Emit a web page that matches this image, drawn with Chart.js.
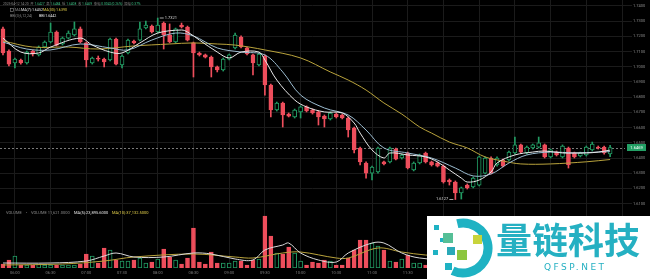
<!DOCTYPE html>
<html>
<head>
<meta charset="utf-8">
<script src="https://cdn.jsdelivr.net/npm/chart.js@4.4.1/dist/chart.umd.min.js"></script>
<style>
  html, body { margin: 0; padding: 0; background: #000; }
  #wrap { width: 650px; height: 279px; }
</style>
</head>
<body>
<div id="wrap"><canvas id="kline" width="650" height="279"></canvas></div>
<script>
// 5 minute candles, 05:50 .. 14:20 (plus empty slots to 14:30)
const times = [
  '05:50','05:55',
  '06:00','06:05','06:10','06:15','06:20','06:25','06:30','06:35','06:40','06:45','06:50','06:55',
  '07:00','07:05','07:10','07:15','07:20','07:25','07:30','07:35','07:40','07:45','07:50','07:55',
  '08:00','08:05','08:10','08:15','08:20','08:25','08:30','08:35','08:40','08:45','08:50','08:55',
  '09:00','09:05','09:10','09:15','09:20','09:25','09:30','09:35','09:40','09:45','09:50','09:55',
  '10:00','10:05','10:10','10:15','10:20','10:25','10:30','10:35','10:40','10:45','10:50','10:55',
  '11:00','11:05','11:10','11:15','11:20','11:25','11:30','11:35','11:40','11:45','11:50','11:55',
  '12:00','12:05','12:10','12:15','12:20','12:25','12:30','12:35','12:40','12:45','12:50','12:55',
  '13:00','13:05','13:10','13:15','13:20','13:25','13:30','13:35','13:40','13:45','13:50','13:55',
  '14:00','14:05','14:10','14:15','14:20','14:25','14:30'
];
const tickLabels = ['06:00','06:30','07:00','07:30','08:00','08:30','09:00','09:30','10:00','10:30',
  '11:00','11:30','12:00','12:30','13:00','13:30','14:00','14:30'];
const priceTicks = [1.74,1.73,1.72,1.71,1.70,1.69,1.68,1.67,1.66,1.65,1.64,1.63,1.62,1.61];

const open = [
  1.7249,1.7104,1.7025,1.7045,1.7025,1.7104,1.7078,1.7130,1.7163,1.7229,
  1.7150,1.7189,1.7209,1.7249,1.7157,1.7025,1.7058,1.7051,1.7045,1.7183,
  1.7012,1.7091,1.7170,1.7176,1.7255,1.7268,1.7229,1.7288,1.7209,1.7163,
  1.7275,1.7262,1.7157,1.7091,1.7078,1.7064,1.6999,1.6979,1.7051,1.7124,
  1.7196,1.7124,1.7078,1.7012,1.7071,1.6880,1.6716,1.6762,1.6689,1.6670,
  1.6703,1.6736,1.6716,1.6703,1.6676,1.6657,1.6689,1.6683,1.6663,1.6597,
  1.6466,1.6367,1.6301,1.6308,1.6374,1.6374,1.6459,1.6400,1.6433,1.6321,
  1.6367,1.6433,1.6374,1.6367,1.6347,1.6255,1.6242,1.6170,1.6222,1.6209,
  1.6222,1.6301,1.6400,1.6354,1.6387,1.6387,1.6433,1.6486,1.6433,1.6466,
  1.6472,1.6486,1.6407,1.6439,1.6407,1.6466,1.6433,1.6413,1.6420,1.6453,
  1.6472,1.6472,1.6427
];
const high = [
  1.7262,1.7111,1.7058,1.7051,1.7104,1.7111,1.7137,1.7170,1.7288,1.7236,
  1.7196,1.7236,1.7295,1.7262,1.7163,1.7064,1.7071,1.7058,1.7189,1.7189,
  1.7078,1.7183,1.7176,1.7295,1.7301,1.7275,1.7321,1.7295,1.7282,1.7255,
  1.7288,1.7268,1.7163,1.7097,1.7084,1.7071,1.7005,1.7058,1.7084,1.7222,
  1.7203,1.7130,1.7084,1.7091,1.7078,1.6886,1.6768,1.6768,1.6696,1.6722,
  1.6743,1.6743,1.6722,1.6709,1.6683,1.6703,1.6696,1.6689,1.6670,1.6604,
  1.6472,1.6374,1.6347,1.6472,1.6380,1.6472,1.6466,1.6426,1.6439,1.6374,
  1.6426,1.6439,1.6380,1.6374,1.6354,1.6262,1.6249,1.6209,1.6229,1.6275,
  1.6413,1.6407,1.6407,1.6407,1.6393,1.6446,1.6538,1.6492,1.6479,1.6492,
  1.6538,1.6492,1.6459,1.6446,1.6486,1.6472,1.6439,1.6439,1.6479,1.6505,
  1.6479,1.6479,1.6484
];
const low = [
  1.7078,1.7005,1.6992,1.7018,1.7018,1.7071,1.7071,1.7124,1.7157,1.7137,
  1.7143,1.7183,1.7203,1.7157,1.6999,1.7018,1.7038,1.6999,1.7038,1.7012,
  1.6992,1.7084,1.7150,1.7170,1.7249,1.7222,1.7222,1.7117,1.7157,1.7157,
  1.7255,1.7170,1.6933,1.7071,1.7058,1.6933,1.6966,1.6972,1.7045,1.7117,
  1.7124,1.7078,1.6946,1.7005,1.6814,1.6670,1.6709,1.6604,1.6670,1.6663,
  1.6663,1.6703,1.6689,1.6617,1.6604,1.6650,1.6663,1.6657,1.6538,1.6433,
  1.6354,1.6268,1.6255,1.6301,1.6354,1.6367,1.6387,1.6393,1.6328,1.6315,
  1.6361,1.6367,1.6347,1.6341,1.6235,1.6222,1.6127,1.6130,1.6196,1.6203,
  1.6216,1.6295,1.6295,1.6347,1.6341,1.6380,1.6426,1.6433,1.6426,1.6459,
  1.6466,1.6400,1.6400,1.6413,1.6400,1.6334,1.6400,1.6407,1.6413,1.6446,
  1.6459,1.6426,1.6408
];
const close = [
  1.7091,1.7018,1.7051,1.7025,1.7097,1.7084,1.7130,1.7163,1.7229,1.7143,
  1.7189,1.7222,1.7249,1.7163,1.7045,1.7058,1.7051,1.7032,1.7183,1.7018,
  1.7071,1.7176,1.7157,1.7249,1.7275,1.7229,1.7275,1.7209,1.7163,1.7249,
  1.7262,1.7176,1.7091,1.7078,1.7064,1.6999,1.6979,1.7051,1.7078,1.7209,
  1.7130,1.7084,1.7025,1.7084,1.6880,1.6716,1.6762,1.6683,1.6676,1.6716,
  1.6736,1.6709,1.6696,1.6670,1.6657,1.6696,1.6670,1.6663,1.6584,1.6453,
  1.6374,1.6301,1.6341,1.6466,1.6361,1.6466,1.6393,1.6420,1.6334,1.6367,
  1.6420,1.6374,1.6354,1.6347,1.6242,1.6242,1.6170,1.6203,1.6203,1.6268,
  1.6407,1.6400,1.6301,1.6400,1.6347,1.6439,1.6486,1.6439,1.6472,1.6486,
  1.6499,1.6407,1.6453,1.6420,1.6479,1.6354,1.6407,1.6433,1.6472,1.6492,
  1.6466,1.6433,1.6469
];
const volume = [
  20000,40000,60000,15000,15000,15000,20000,15000,15000,15000,
  15000,15000,15000,20000,70000,60000,25000,100000,90000,40000,
  35000,35000,40000,50000,25000,30000,45000,95000,55000,40000,
  20000,50000,200000,30000,20000,80000,25000,25000,25000,35000,
  35000,15000,40000,45000,260000,160000,75000,70000,105000,75000,
  35000,15000,30000,25000,40000,35000,15000,15000,50000,90000,
  140000,140000,125000,110000,90000,35000,30000,45000,65000,25000,
  25000,15000,15000,12000,45000,20000,60000,25000,15000,30000,
  90000,55000,40000,20000,18000,35000,50000,25000,20000,15000,
  30000,45000,22000,38000,64000,82000,40000,27847,30000,35000,
  18000,24857,11621
];

// indicator lines (candle index, value)
const ma7Idx = [0,3,6,8,13,15,18,20,23,26,30,31,33,36,38,40,43,44,46,49,51,54,57,59,60,62,64,65,68,71,73,75,77,78,80,82,83,86,89,91,94,96,98,100,102];
const ma7 = [1.7189,1.7097,1.7091,1.7130,1.7189,1.7143,1.7097,1.7091,1.7157,1.7222,1.7242,1.7229,1.7176,1.7097,1.7058,1.7097,1.7097,1.7045,1.6913,1.6782,1.6736,1.6703,1.6696,1.6630,1.6564,1.6453,1.6400,1.6433,1.6420,1.6407,1.6374,1.6321,1.6268,1.6242,1.6255,1.6308,1.6367,1.6420,1.6439,1.6446,1.6433,1.6433,1.6433,1.6439,1.6452];
const bbiIdx = [0,4,8,13,18,21,25,29,32,36,40,44,47,50,54,58,61,64,68,72,76,79,82,85,88,92,96,100,102];
const bbi = [1.7163,1.7117,1.7111,1.7150,1.7124,1.7111,1.7176,1.7222,1.7203,1.7124,1.7097,1.7078,1.6966,1.6814,1.6729,1.6683,1.6584,1.6466,1.6433,1.6400,1.6334,1.6282,1.6295,1.6367,1.6420,1.6439,1.6433,1.6439,1.6442];
const ma30Idx = [0,5,11,16,22,28,32,36,39,44,50,55,58,61,64,67,70,72,75,78,81,84,87,92,98,102];
const ma30 = [1.7170,1.7130,1.7130,1.7117,1.7137,1.7150,1.7157,1.7150,1.7143,1.7111,1.7058,1.6966,1.6913,1.6847,1.6762,1.6689,1.6604,1.6564,1.6505,1.6466,1.6407,1.6380,1.6361,1.6361,1.6375,1.6390];
const volMa5Idx = [0,8,14,17,19,22,27,32,35,39,42,44,47,48,50,53,56,58,62,64,67,70,76,82,88,95,102];
const volMa5 = [25000,25000,35000,60000,75000,55000,55000,75000,70000,45000,40000,90000,115000,125000,75000,40000,30000,75000,125000,125000,75000,50000,40000,55000,45000,60000,23896];
const volMa10Idx = [0,10,17,22,32,39,42,47,50,56,58,63,67,71,80,90,102];
const volMa10 = [15000,20000,35000,55000,70000,55000,50000,75000,80000,50000,50000,100000,80000,65000,50000,45000,37133];

const up = '#229b63';
const down = '#ee4e5c';
const bg = '#000';
const isUp = close.map((c, i) => c >= open[i]);
const pts = (idx, vals) => idx.map((k, j) => ({ x: times[k], y: vals[j] }));

function drawParts(ctx, x, y, parts) {
  parts.forEach(([text, color, at]) => {
    if (at !== undefined) x = at;
    ctx.fillStyle = color;
    ctx.fillText(text, x, y);
    x += ctx.measureText(text).width;
  });
}

const overlay = {
  id: 'overlay',
  beforeDatasetsDraw(chart) {
    const { ctx, chartArea, scales: { y } } = chart;
    const py = Math.round(y.getPixelForValue(close[close.length - 1])) + 0.5;
    ctx.save();
    ctx.strokeStyle = '#7a7a7a';
    ctx.lineWidth = 1;
    ctx.setLineDash([2, 2]);
    ctx.beginPath();
    ctx.moveTo(chartArea.left, py);
    ctx.lineTo(chartArea.right, py);
    ctx.stroke();
    ctx.restore();
  },
  afterDraw(chart) {
    const { ctx, scales: { x, y } } = chart;
    ctx.save();
    ctx.textBaseline = 'middle';

    // high / low marks
    const hi = high.indexOf(Math.max(...high));
    const lo = low.indexOf(Math.min(...low));
    ctx.strokeStyle = '#cfcfcf';
    ctx.fillStyle = '#dcdcdc';
    ctx.lineWidth = 0.8;
    ctx.font = '4px Roboto, sans-serif';
    let hx = x.getPixelForValue(hi), hy = y.getPixelForValue(high[hi]);
    ctx.beginPath(); ctx.moveTo(hx + 2, hy); ctx.lineTo(hx + 6, hy); ctx.stroke();
    ctx.textAlign = 'left';
    ctx.fillText(high[hi].toFixed(4), hx + 7, hy);
    let lx = x.getPixelForValue(lo), ly = y.getPixelForValue(low[lo]);
    ctx.beginPath(); ctx.moveTo(lx - 6, ly); ctx.lineTo(lx - 2, ly); ctx.stroke();
    ctx.textAlign = 'right';
    ctx.fillText(low[lo].toFixed(4), lx - 7, ly);

    // last price tag
    const last = close[close.length - 1];
    const py = y.getPixelForValue(last);
    ctx.fillStyle = '#23a065';
    ctx.fillRect(627, py - 3.5, 19, 7);
    ctx.fillStyle = '#fff';
    ctx.textAlign = 'center';
    ctx.fillText(last.toFixed(4), 636.5, py);

    // header lines
    ctx.textAlign = 'left';
    ctx.font = '3.3px Roboto, "Noto Sans CJK SC", sans-serif';
    const g = '#8a8a8a', gr = '#3cbf84';
    drawParts(ctx, 3, 4, [['2025-04-12 14:20  ', g], ['开 ', g], ['1.6427  ', gr], ['高 ', g], ['1.6484  ', gr],
      ['低 ', g], ['1.6408  ', gr], ['收 ', g], ['1.6469  ', gr], ['涨幅 ', g], ['0.0042(0.26%)  ', gr], ['振幅 ', g], ['0.37%', gr]]);
    ctx.font = '3.6px Roboto, sans-serif';
    ctx.strokeStyle = '#8a8a8a'; ctx.lineWidth = 0.6;
    ctx.strokeRect(10.5, 8.5, 3, 3);
    drawParts(ctx, 15, 10, [['MA', g], ['MA(7):1.6452', '#e6e6e6', 21], ['MA(30):1.6390', '#e3cf4a', 43]]);
    drawParts(ctx, 10, 16, [['BBI(3,6,12,24)', g], ['BBI:1.6442', '#e6e6e6', 39]]);

    // volume legend
    ctx.font = '4px Roboto, sans-serif';
    drawParts(ctx, 6, 213, [['VOLUME', g], ['•', g, 26], ['VOLUME 11,621.0000', g, 31],
      ['MA(5):23,895.6000', '#e6e6e6', 74], ['MA(10):37,132.5000', '#e3cf4a', 112]]);

    // watermark
    ctx.fillStyle = '#fff';
    ctx.fillRect(427, 216, 223, 63);
    ctx.strokeStyle = '#1fb2c3';
    ctx.lineWidth = 9;
    ctx.beginPath();
    ctx.arc(463, 248, 25, -1.8, 2.0);
    ctx.stroke();
    [[434, 225, 5, '#1fb2c3'], [440, 238, 4, '#1fb2c3'], [433, 250, 5, '#1fb2c3'], [445, 263, 7, '#1fb2c3'],
     [443, 233, 10, '#56bf97'], [457, 250, 10, '#8cc63f'], [473, 235, 9, '#c8d43c'], [447, 247, 8, '#2aa9b8']]
      .forEach(([sx, sy, s, c]) => { ctx.fillStyle = c; ctx.fillRect(sx, sy, s, s); });
    ctx.fillStyle = '#25b0c2';
    ctx.textAlign = 'left';
    ctx.font = 'bold 36px "Noto Sans CJK SC", sans-serif';
    ctx.fillText('量链科技', 496, 240);
    ctx.font = '9px "DejaVu Sans", sans-serif';
    ctx.letterSpacing = '2.5px';
    ctx.fillText('QFSP.NET', 544, 268);
    ctx.restore();
  }
};

const lineStyle = { type: 'line', pointRadius: 0, borderWidth: 1, tension: 0.35, fill: false, order: 0 };

new Chart(document.getElementById('kline'), {
  type: 'bar',
  data: {
    labels: times,
    datasets: [
      { ...lineStyle, data: pts(ma7Idx, ma7), borderColor: '#e8e8e8', yAxisID: 'y' },
      { ...lineStyle, data: pts(bbiIdx, bbi), borderColor: '#9bbcd0', yAxisID: 'y' },
      { ...lineStyle, data: pts(ma30Idx, ma30), borderColor: '#b9a33c', yAxisID: 'y' },
      { ...lineStyle, data: pts(volMa5Idx, volMa5), borderColor: '#d8d8d8', yAxisID: 'yv' },
      { ...lineStyle, data: pts(volMa10Idx, volMa10), borderColor: '#b9a33c', yAxisID: 'yv' },
      {
        data: open.map((o, i) => [o, close[i]]),
        backgroundColor: isUp.map(u => u ? bg : down),
        borderColor: isUp.map(u => u ? up : down),
        borderWidth: 1, borderSkipped: false, barThickness: 4, minBarLength: 1,
        grouped: false, order: 1, yAxisID: 'y'
      },
      {
        data: low.map((l, i) => [l, high[i]]),
        backgroundColor: isUp.map(u => u ? up : down),
        barThickness: 1, grouped: false, order: 3, yAxisID: 'y'
      },
      {
        data: volume,
        backgroundColor: isUp.map(u => u ? bg : down),
        borderColor: isUp.map(u => u ? up : down),
        borderWidth: 1, borderSkipped: false, barThickness: 4,
        grouped: false, order: 2, yAxisID: 'yv'
      }
    ]
  },
  options: {
    responsive: false,
    animation: false,
    layout: { padding: 0 },
    scales: {
      x: {
        type: 'category',
        offset: true,
        border: { display: false },
        grid: {
          offset: false,
          drawTicks: false,
          color: ctx => tickLabels.includes(times[ctx.index]) ? '#1b1b1b' : 'transparent'
        },
        ticks: {
          autoSkip: false,
          maxRotation: 0,
          padding: 3,
          color: '#7d7d7d',
          font: { size: 4, family: 'Roboto' },
          callback: (v, i) => tickLabels.includes(times[i]) ? times[i] : ''
        },
        afterFit: s => { s.height = 11; s.paddingLeft = 0; s.paddingRight = 0; }
      },
      y: {
        position: 'right',
        min: 1.567632,
        max: 1.743947,
        border: { display: false },
        grid: { color: '#1b1b1b', tickLength: 7 },
        ticks: {
          padding: 1,
          color: '#8a8a8a',
          font: { size: 4, family: 'Roboto' },
          callback: v => Number(v).toFixed(4)
        },
        afterBuildTicks: s => { s.ticks = priceTicks.map(v => ({ value: v })); },
        afterFit: s => { s.width = 25; s.paddingTop = 0; s.paddingBottom = 0; }
      },
      yv: {
        display: false,
        min: 0,
        max: 1340000
      }
    },
    plugins: {
      legend: { display: false },
      tooltip: { enabled: false }
    }
  },
  plugins: [overlay]
});
</script>
</body>
</html>
